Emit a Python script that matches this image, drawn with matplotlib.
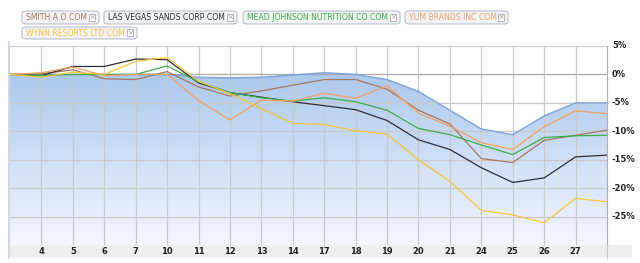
import numpy as np
import matplotlib
matplotlib.use("Agg")
import matplotlib.pyplot as plt
from matplotlib.patches import FancyBboxPatch, Rectangle

# trading days (index 0 = 3rd, last = 28th)
days = [3, 4, 5, 6, 7, 10, 11, 12, 13, 14, 17, 18, 19, 20, 21, 24, 25, 26, 27, 28]
tick_labels = ["4", "5", "6", "7", "10", "11", "12", "13", "14", "17", "18", "19",
               "20", "21", "24", "25", "26", "27"]

# % change series
benchmark = [0, 0, 0, 0, 0, 0, -0.5, -0.6, -0.5, -0.1, 0.3, 0.0, -0.9, -3.0, -6.3,
             -9.6, -10.6, -7.3, -5.0, -5.0]
smith = [0, 0.1, 0.8, -0.75, -0.9, 0.5, -2.2, -3.8, -2.9, -1.9, -0.9, -0.9, -2.6,
         -6.3, -8.7, -14.8, -15.5, -11.6, -10.7, -9.8]
lvs = [0, -0.2, 1.4, 1.4, 2.7, 2.6, -1.5, -3.2, -4.0, -4.8, -5.5, -6.2, -8.1,
       -11.5, -13.2, -16.4, -19.0, -18.2, -14.5, -14.2]
mead = [0, -0.2, 0, 0, 0, 1.5, -1.3, -3.2, -4.1, -4.7, -4.1, -4.8, -6.3, -9.5,
        -10.6, -12.4, -14.1, -11.1, -10.8, -10.7]
yum = [0, 0.3, 1.3, -0.2, 0, 0, -4.6, -8.0, -4.5, -4.7, -3.3, -4.2, -2.0, -6.8,
       -9.1, -12.0, -13.2, -9.2, -6.4, -6.9]
wynn = [0, -0.5, 0.4, 0, 2.3, 3.0, -1.2, -3.4, -6.0, -8.6, -8.8, -9.9, -10.5,
        -15.0, -18.8, -23.9, -24.7, -26.1, -21.8, -22.4]

names = ["SMITH A O COM", "LAS VEGAS SANDS CORP COM", "MEAD JOHNSON NUTRITION CO COM",
         "YUM BRANDS INC COM", "WYNN RESORTS LTD COM"]
colors = ["#a8785e", "#2e2e36", "#3cae48", "#f4a060", "#f8c43c"]
series = [smith, lvs, mead, yum, wynn]
yticks = [5, 0, -5, -10, -15, -20, -25]

W, H = 640, 263
fig = plt.figure(figsize=(6.4, 2.63), dpi=100)
plt.rcParams['font.family'] = 'DejaVu Sans'

def px(x0, y0, x1, y1):
    return [x0 / W, 1 - y1 / H, (x1 - x0) / W, (y1 - y0) / H]

ax = fig.add_axes(px(10, 46, 607, 245))
x = np.arange(len(days))
ax.set_xlim(0, len(days) - 1)
ax.set_ylim(-30, 5)

# gradient fill under the benchmark curve
grad = np.linspace(0, 1, 256).reshape(-1, 1)
cmap = matplotlib.colors.LinearSegmentedColormap.from_list("g", ["#f4f6fd", "#a9c7ee"])
img = ax.imshow(grad, extent=[0, len(days) - 1, -30, 1], aspect='auto', cmap=cmap,
                origin='lower', zorder=0)
poly = ax.fill_between(x, benchmark, -30, color='none', lw=0)
img.set_clip_path(poly.get_paths()[0], transform=ax.transData)
ax.plot(x, benchmark, color="#7aa2dc", lw=1, zorder=1)

# grid
for i in range(1, len(days) - 1):
    ax.axvline(i, color="#c9c9c9", lw=0.9, zorder=0.5)
for v in yticks:
    ax.axhline(v, color="#aaaaaa" if v == 0 else "#c9c9c9", lw=0.9, zorder=0.5)

for s, c in zip(series, colors):
    ax.plot(x, s, color=c, lw=0.9, zorder=3)

ax.set_xticks([])
ax.set_yticks([])
for sp in ["top", "left", "bottom"]:
    ax.spines[sp].set_visible(False)
ax.spines["right"].set_color("#b0b0b0")

# right axis labels
for v in yticks:
    yy = 46 + (5 - v) * 199 / 35
    fig.text(612 / W, 1 - yy / H, f"{v}%", fontsize=6, fontweight='bold',
             va='center', ha='left', color="#222222")

# x axis band
fig.patches.append(Rectangle((10 / W, 1 - 258 / H), 622 / W, 13 / H, transform=fig.transFigure,
                             fc="#eeeeee", ec="none", zorder=0))
fig.add_artist(plt.Line2D([607 / W, 607 / W], [1 - 258 / H, 1 - 245 / H], color="#c8c8c8", lw=0.8))
fig.add_artist(plt.Line2D([9 / W, 9 / W], [1 - 258 / H, 1 - 42 / H], color="#c8d0dc", lw=1.2))
for i, lab in enumerate(tick_labels, start=1):
    xx = 10 + i * 597 / 19
    fig.text(xx / W, 1 - 252 / H, lab, fontsize=6, fontweight='bold', ha='center',
             va='center', color="#222222")

# legend buttons
buttons = [(22, 11, 99, 24), (104, 11, 237, 24), (243, 11, 400, 24), (405, 11, 508, 24),
           (22, 27, 137, 39)]
for (x0, y0, x1, y1), name, c in zip(buttons, names, colors):
    fig.patches.append(FancyBboxPatch((x0 / W, 1 - y1 / H), (x1 - x0) / W, (y1 - y0) / H,
                                      boxstyle="round,pad=0,rounding_size=0.008",
                                      transform=fig.transFigure, fc="#f1f3f7", ec="#b9c0cc",
                                      lw=0.8))
    ym = 1 - (y0 + y1) / 2 / H
    fig.text((x0 + 4) / W, ym, name, fontsize=5.6, color=c, va='center', ha='left')
    fig.patches.append(Rectangle(((x1 - 10) / W, ym - 3.5 / H), 6 / W, 7 / H,
                                 transform=fig.transFigure, fc="white", ec="#a8a8a8", lw=0.6))
    fig.text((x1 - 7) / W, ym, "×", fontsize=5, color="#999999", va='center', ha='center')

fig.savefig("out.png", dpi=100)
